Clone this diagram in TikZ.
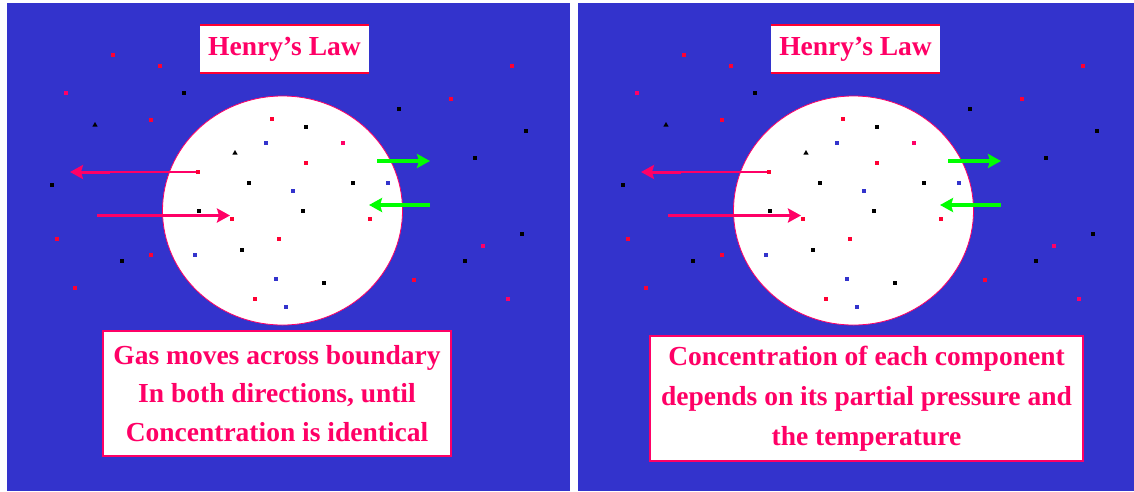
\documentclass[tikz,border=0pt]{standalone}
\usepackage{fontspec}
\setmainfont{Liberation Serif}[BoldFont={Liberation Serif Bold}]
\newfontfamily\henryfont{Liberation Serif Bold}
\usetikzlibrary{arrows.meta,shapes.geometric}
\definecolor{hblue}{RGB}{51,51,204}
\definecolor{hpink}{RGB}{255,0,102}
\definecolor{hred}{RGB}{255,0,51}
\definecolor{hgreen}{RGB}{0,255,0}
\tikzset{
	mol/.style={fill=#1, inner sep=0pt, minimum size=3.8pt},
	rd/.style={mol=hred},
	pk/.style={mol=hpink},
	bk/.style={mol=black},
	bl/.style={mol=hblue},
	bt/.style={fill=black, regular polygon, regular polygon sides=3, inner sep=0pt, minimum size=6pt},
	cell/.style={ellipse, fill=white, draw=hpink, line width=0.8pt,
		minimum width=240pt, minimum height=229pt, inner sep=0pt},
	ttl/.style={fill=white, text=hpink, font=\henryfont\fontsize{27.5}{30}\selectfont,
		minimum width=169pt, minimum height=48pt, inner sep=0pt},
	rim/.style={hred, line width=2pt},
	tbox/.style={draw=hpink, fill=white, line width=1.2pt, text=hpink, align=center, inner sep=0pt},
	flow/.style={line width=#1, -{Stealth[length=13pt 0 0,width=14pt 0 0,inset=2pt]}},
	>=stealth,
}

% one panel: title, cell, gas molecules and the flows
\newcommand\henrypanel{%
	\node[ttl] (title) at (284.5,49) {Henry’s Law};
	\draw[rim] (title.north west) -- (title.north east);
	\draw[rim] (title.south west) -- (title.south east);
	\node[cell] (cell) at (282.5,210.5) {};
	\foreach \x/\y/\s [count=\i] in {
		113/55/rd, 160/66/rd, 66/93/pk, 184/93/bk, 95/125/bt, 151/120/rd, 52/185/bk,
		57/239/rd, 122/261/bk, 151/255/rd, 75/288/rd, 512/66/rd, 451/99/rd, 399/109/bk,
		526/131/bk, 475/158/bk, 522/234/bk, 483/246/pk, 465/261/bk, 414/280/rd, 508/299/pk,
		272/119/rd, 306/127/bk, 266/143/bl, 343/143/pk, 235/153/bt, 306/163/rd, 198/172/rd,
		249/183/bk, 353/183/bk, 388/183/bl, 293/191/bl, 199/211/bk, 303/211/bk, 232/219/rd,
		370/219/rd, 279/239/rd, 242/250/bk, 195/255/bl, 276/279/bl, 324/283/bk, 255/299/rd,
		286/307/bl}
		\node[\s] (m\i) at (\x,\y) {};
	\coordinate (kink) at (110,172);
	\coordinate (out) at (70,172);
	\coordinate (in) at (97,215.5);
	\coordinate (inend) at (230,215.5);
	\coordinate (gout) at (377,161);
	\coordinate (goutend) at (430,161);
	\coordinate (gin) at (430,205);
	\coordinate (ginend) at (369,205);
	\draw[hpink, line width=1.5pt] (m28) -- (kink);
	\draw[hpink, flow=3pt] (kink) -- (out);
	\draw[hpink, flow=3pt] (in) -- (inend);
	\draw[hgreen, flow=4pt] (gout) -- (goutend);
	\draw[hgreen, flow=4pt] (gin) -- (ginend);
}

\begin{document}
\begin{tikzpicture}[x=1pt, y=-1pt]
\fill[white] (0,0) rectangle (1134,491);
\useasboundingbox (0,0) rectangle (1134,491);
\fill[hblue] (7,3) rectangle (570,491);
\fill[hblue] (578,3) rectangle (1134,491);

\henrypanel
\node[tbox, minimum width=348pt, minimum height=125pt,
	font=\henryfont\fontsize{27.5}{38.5}\selectfont] (noteL) at (277,393.5)
	{Gas moves across boundary\\In both directions, until\\Concentration is identical};

\begin{scope}[xshift=571pt, name prefix=R-]
\henrypanel
\end{scope}
\node[tbox, minimum width=433pt, minimum height=125pt,
	font=\henryfont\fontsize{27.5}{40}\selectfont] (noteR) at (866.5,398.5)
	{Concentration of each component\\depends on its partial pressure and\\the temperature};
\end{tikzpicture}
\end{document}
